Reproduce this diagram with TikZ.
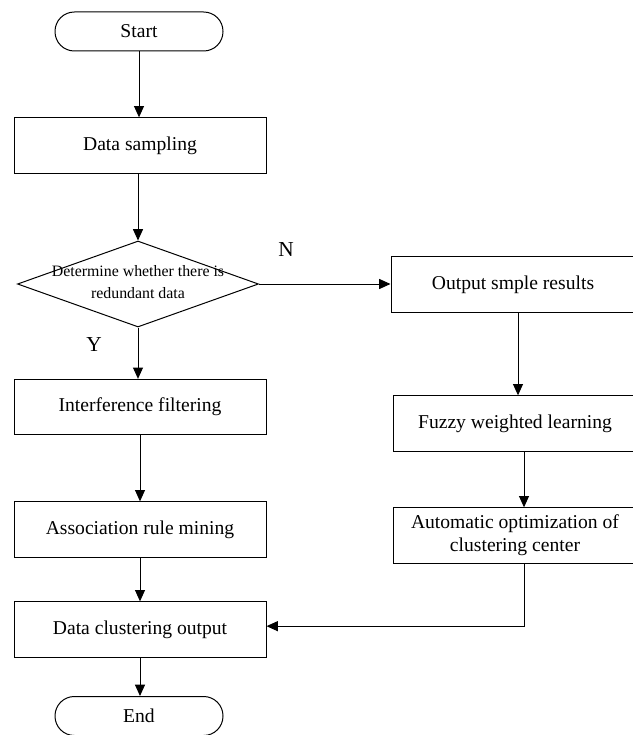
\documentclass[tikz,border=0pt]{standalone}
\usepackage{fontspec}
\setmainfont{Liberation Serif}
\usetikzlibrary{shapes.geometric,arrows.meta}

\tikzset{
  flowline/.style={line width=0.75pt,-{Triangle[length=8.5pt,width=7.5pt]}},
  termbox/.style={draw,line width=0.75pt,rounded corners=14.5pt,minimum width=126pt,minimum height=29.25pt,inner sep=0pt,font=\fontsize{14.7}{16}\selectfont},
  procbox/.style={draw,line width=0.75pt,minimum width=189pt,minimum height=41.5pt,inner sep=0pt,align=center,font=\fontsize{14.7}{17}\selectfont},
  rightbox/.style={procbox,minimum width=183pt},
  decbox/.style={draw,diamond,line width=0.75pt,minimum width=180.75pt,minimum height=64.5pt,inner sep=0pt},
  yntext/.style={inner sep=0pt,font=\fontsize{16}{18}\selectfont}
}

\begin{document}
\begin{tikzpicture}[x=0.75pt,y=0.75pt,yscale=-1,xscale=1]
%set diagram left start at 0, and has height of 735
\useasboundingbox (0,0) rectangle (632,735);

%Flowchart: Terminator
\node [termbox] (start) at (139,31.5) {Start};
%Flowchart: Process
\node [procbox] (sampling) at (140,145.5) {Data sampling};
%Flowchart: Decision
\node [decbox] (decide) at (138,284) {};
\node [inner sep=0pt,align=center,font=\fontsize{11.9}{16}\selectfont] (decidetxt) at (138,282) {Determine whether there is\\redundant data};
%Flowchart: Process
\node [procbox] (filter) at (140,407) {Interference filtering};
\node [procbox] (assoc) at (140,529.5) {Association rule mining};
\node [procbox] (clusterout) at (140,629.5) {Data clustering output};
%Flowchart: Terminator
\node [termbox] (finish) at (139,716) {End};

%right column
\node [rightbox] (sampleout) at (513,284.5) {Output smple results};
\node [rightbox] (fuzzy) at (515,423.5) {Fuzzy weighted learning};
\node [rightbox] (autoopt) at (515,535.5) {Automatic optimization of\\clustering center};

% Text Node
\node [yntext] (nlabel) at (286,250) {N};
% Text Node
\node [yntext] (ylabel) at (94,345) {Y};

%Straight Lines
\draw [flowline] (start.south) -- (start.south |- sampling.north);
\draw [flowline] (sampling.south) -- (sampling.south -| decide.north) -- (decide.north);
\draw [flowline] (decide.east) -- (decide.east -| sampleout.west);
\draw [flowline] (decide.south) -- (decide.south |- filter.north);
\draw [flowline] (filter.south) -- (assoc.north);
\draw [flowline] (assoc.south) -- (clusterout.north);
\draw [flowline] (clusterout.south) -- (clusterout.south |- finish.north);
\draw [flowline] ([xshift=3.75pt]sampleout.south) -- ([xshift=3.75pt]sampleout.south |- fuzzy.north);
\draw [flowline] ([xshift=6.75pt]fuzzy.south) -- ([xshift=6.75pt]autoopt.north);
\draw [flowline] ([xshift=6.75pt]autoopt.south) |- ([yshift=-2.5pt]clusterout.east);

\end{tikzpicture}
\end{document}
